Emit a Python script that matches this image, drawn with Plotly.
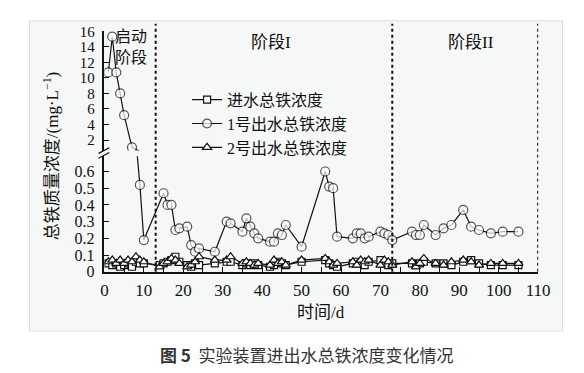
import plotly.graph_objects as go

# ---------------- data ----------------
days_1 = [1, 2, 3, 4, 5, 7, 9, 10, 15, 16, 17, 18, 19, 21, 22, 23, 24, 28, 31, 32, 35, 36, 37, 38, 39,
          42, 43, 44, 45, 46, 50, 56, 57, 58, 59, 63, 64, 65, 66, 67, 70, 71, 72, 73, 78, 79, 80, 81,
          84, 86, 88, 91, 93, 95, 98, 101, 105]
out1 = [10.7, 15.3, 10.7, 8.0, 5.2, 1.05, 0.52, 0.19, 0.47, 0.40, 0.40, 0.25, 0.26, 0.27, 0.16, 0.12,
        0.14, 0.12, 0.30, 0.29, 0.24, 0.32, 0.27, 0.23, 0.20, 0.18, 0.18, 0.23, 0.22, 0.28, 0.15, 0.60,
        0.51, 0.50, 0.21, 0.20, 0.23, 0.23, 0.20, 0.21, 0.24, 0.23, 0.22, 0.19, 0.24, 0.22, 0.22, 0.28,
        0.22, 0.26, 0.28, 0.37, 0.27, 0.25, 0.23, 0.24, 0.24]

days_2 = [1, 2, 3, 4, 5, 6, 7, 8, 9, 10, 14, 15, 16, 17, 18, 19, 21, 22, 23, 24, 28, 31, 32, 35, 36, 37,
          38, 39, 42, 43, 44, 45, 46, 50, 56, 57, 58, 59, 63, 64, 65, 66, 67, 70, 71, 72, 73, 78, 79, 80,
          81, 84, 86, 88, 91, 93, 95, 98, 101, 105]
inflow = [0.05, 0.04, 0.05, 0.03, 0.04, 0.05, 0.03, 0.06, 0.05, 0.05, 0.04, 0.05, 0.06, 0.07, 0.09, 0.06,
          0.04, 0.03, 0.05, 0.04, 0.05, 0.06, 0.06, 0.04, 0.05, 0.04, 0.05, 0.04, 0.03, 0.04, 0.06, 0.05,
          0.04, 0.06, 0.07, 0.05, 0.04, 0.03, 0.05, 0.06, 0.05, 0.04, 0.06, 0.07, 0.05, 0.04, 0.05, 0.05,
          0.04, 0.05, 0.06, 0.05, 0.05, 0.04, 0.06, 0.07, 0.05, 0.04, 0.04, 0.04]
out2 = [0.06, 0.07, 0.05, 0.07, 0.05, 0.07, 0.06, 0.09, 0.07, 0.06, 0.03, 0.05, 0.06, 0.08, 0.07, 0.05,
        0.03, 0.04, 0.06, 0.09, 0.07, 0.07, 0.09, 0.05, 0.06, 0.05, 0.04, 0.05, 0.04, 0.07, 0.05, 0.06,
        0.04, 0.07, 0.08, 0.06, 0.04, 0.05, 0.06, 0.04, 0.07, 0.06, 0.07, 0.04, 0.07, 0.06, 0.04, 0.06,
        0.03, 0.05, 0.08, 0.05, 0.04, 0.06, 0.07, 0.06, 0.04, 0.05, 0.05, 0.05]

stage_lines = [13, 73, 110]
x_ticks = [0, 10, 20, 30, 40, 50, 60, 70, 80, 90, 100, 110]
y_low_ticks = [0, 0.1, 0.2, 0.3, 0.4, 0.5, 0.6]
y_low_labels = ["0", "0.1", "0.2", "0.3", "0.4", "0.5", "0.6"]
y_up_ticks = [2, 4, 6, 8, 10, 12, 14, 16]

LOW_RANGE = [0, 0.691]
UP_RANGE = [0.64, 16]

SERIF = "Liberation Serif, 'Noto Sans CJK SC', serif"
CJK = "'Noto Sans CJK SC', sans-serif"
INK = "#111"

W, H = 584, 373
def px_x(p):
    return p / W
def px_y(p):
    return 1 - p / H

# split the 1号 series between the two axis segments (one neighbour kept on each side
# so the connecting segment crosses the axis break)
idx_up = [i for i, v in enumerate(out1) if v >= UP_RANGE[0]]
last_up = max(idx_up)
up_idx = idx_up + [last_up + 1]
low_idx = list(range(last_up, len(out1)))
up_x = [days_1[i] for i in up_idx]
up_y = [out1[i] for i in up_idx]
up_size = [9 if out1[i] >= UP_RANGE[0] else 0 for i in up_idx]
low_x = [days_1[i] for i in low_idx]
low_y = [out1[i] for i in low_idx]
low_size = [9 if out1[i] <= LOW_RANGE[1] else 0 for i in low_idx]

fig = go.Figure()

line_style = dict(color=INK, width=1.2)
mk_line = dict(color=INK, width=1.2)

fig.add_trace(go.Scatter(x=days_2, y=inflow, yaxis="y", mode="lines+markers", name="进水总铁浓度",
                         line=line_style,
                         marker=dict(symbol="square", size=7, color="white", line=mk_line)))
fig.add_trace(go.Scatter(x=low_x, y=low_y, yaxis="y", mode="lines+markers", name="1号出水总铁浓度",
                         line=line_style,
                         marker=dict(symbol="circle", size=low_size, color="white", line=mk_line)))
fig.add_trace(go.Scatter(x=days_2, y=out2, yaxis="y", mode="lines+markers", name="2号出水总铁浓度",
                         line=line_style,
                         marker=dict(symbol="triangle-up", size=8, color="white", line=mk_line)))
fig.add_trace(go.Scatter(x=up_x, y=up_y, yaxis="y2", mode="lines+markers", name="1号出水总铁浓度",
                         showlegend=False, line=line_style,
                         marker=dict(symbol="circle", size=up_size, color="white", line=mk_line)))

axis_common = dict(showgrid=False, zeroline=False, showline=True, linecolor=INK, linewidth=1.5,
                   ticks="inside", ticklen=5, tickwidth=1.2, tickcolor=INK)

fig.update_layout(
    width=W, height=H,
    margin=dict(l=0, r=0, t=0, b=0),
    paper_bgcolor="white",
    plot_bgcolor="rgba(0,0,0,0)",
    xaxis=dict(domain=[px_x(95), px_x(541)], range=[0, 110], anchor="y",
               tickvals=x_ticks, ticktext=[str(v) for v in x_ticks],
               minor=dict(dtick=5, ticks="inside", ticklen=5, tickcolor=INK, tickwidth=1.2),
               ticklabelstandoff=2, tickfont=dict(family=SERIF, size=17, color=INK), **axis_common),
    yaxis=dict(domain=[px_y(268), px_y(147)], range=LOW_RANGE, anchor="x",
               tickvals=y_low_ticks, ticktext=y_low_labels, ticklabelstandoff=5,
               tickfont=dict(family=SERIF, size=16, color=INK), **axis_common),
    yaxis2=dict(domain=[px_y(141), px_y(16)], range=UP_RANGE, anchor="x",
                tickvals=y_up_ticks, ticktext=[str(v) for v in y_up_ticks], ticklabelstandoff=5,
                tickfont=dict(family=SERIF, size=15, color=INK), **axis_common),
    legend=dict(x=px_x(180), y=px_y(70), xanchor="left", yanchor="top",
                bgcolor="rgba(0,0,0,0)", font=dict(family=SERIF, size=16, color=INK),
                itemwidth=30, tracegroupgap=0),
    showlegend=True,
)

# background panel
fig.add_shape(type="rect", xref="paper", yref="paper", x0=px_x(18), x1=px_x(566), y0=px_y(330), y1=px_y(5),
              fillcolor="#f6f7f7", line=dict(color="#dde2e2", width=1), layer="below")

# stage separators
for xv in stage_lines:
    fig.add_shape(type="line", xref="x", yref="paper", x0=xv, x1=xv, y0=px_y(268), y1=px_y(8),
                  line=dict(color=INK, width=2, dash="3px,3px"))

# axis break marks
for off in (0, 5):
    fig.add_shape(type="line", xref="paper", yref="paper",
                  x0=px_x(89), x1=px_x(100), y0=px_y(144 + off), y1=px_y(138 + off),
                  line=dict(color=INK, width=1.3))

ann = [
    dict(text="启动", x=6.8, y=px_y(20), font=dict(family=CJK, size=16, color=INK)),
    dict(text="阶段", x=6.8, y=px_y(42), font=dict(family=CJK, size=16, color=INK)),
    dict(text="阶段I", x=42.3, y=px_y(28), font=dict(family=SERIF, size=17, color=INK)),
    dict(text="阶段II", x=93, y=px_y(28), font=dict(family=SERIF, size=17, color=INK)),
]
for a in ann:
    fig.add_annotation(xref="x", yref="paper", showarrow=False, xanchor="center", yanchor="middle", **a)

fig.add_annotation(text="总铁质量浓度/(mg·L<sup>−1</sup>)", xref="paper", yref="paper",
                   x=px_x(40), y=px_y(147), textangle=-90, showarrow=False,
                   font=dict(family=SERIF, size=17, color=INK), xanchor="center", yanchor="middle")
fig.add_annotation(text="时间/d", xref="paper", yref="paper", x=px_x(318), y=px_y(311),
                   showarrow=False, font=dict(family=SERIF, size=17, color=INK),
                   xanchor="center", yanchor="middle")
fig.add_annotation(text="<b>图 5</b>  实验装置进出水总铁浓度变化情况", xref="paper", yref="paper",
                   x=px_x(303), y=px_y(355), showarrow=False,
                   font=dict(family=CJK, size=17, color="#333"), xanchor="center", yanchor="middle")

fig.write_html("out.html")
